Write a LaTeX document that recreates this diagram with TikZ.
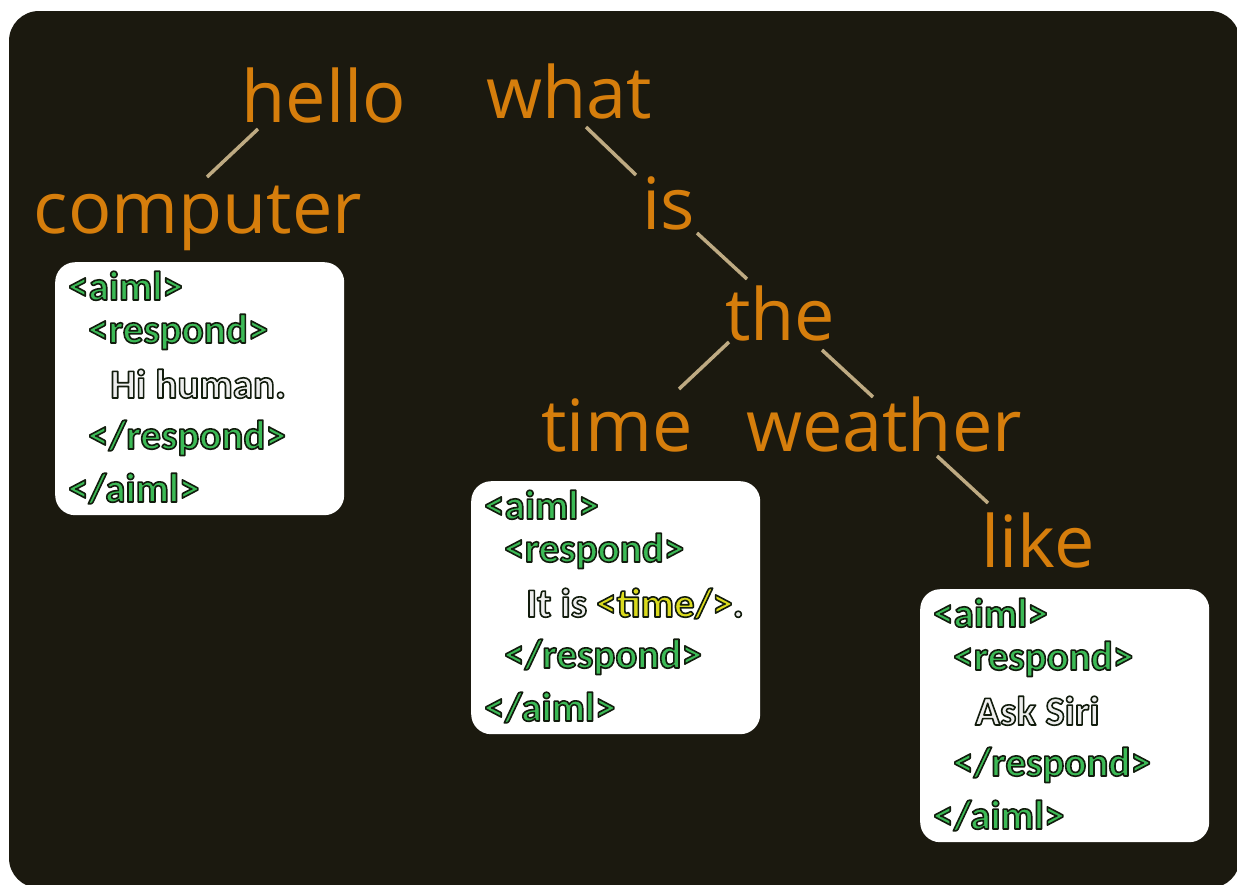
\documentclass[tikz,border=0pt]{standalone}
\usepackage{fontspec}
\setmainfont{Open Sans}
\newfontfamily\boxfont{Carlito}
\usetikzlibrary{calc}
\definecolor{bgc}{RGB}{27,25,15}
\definecolor{wordc}{RGB}{214,126,12}
\definecolor{edgec}{RGB}{190,170,130}
\definecolor{tagg}{RGB}{60,186,86}
\definecolor{txtw}{RGB}{238,238,238}
\definecolor{tyel}{RGB}{218,218,30}
\newcommand\otext[2]{{\color{#1}\special{pdf:literal direct 2 Tr 1.6 w 1 j 0.07 0.11 0.05 RG}#2\special{pdf:literal direct 0 Tr}}}
\tikzset{
  wordnode/.style={text=wordc, font=\fontsize{72}{80}\selectfont, inner sep=0pt, anchor=base},
  edgeline/.style={draw=edgec, line width=3.5pt},
  boxnode/.style={fill=white, rounded corners=20pt, draw=none, minimum width=289pt, minimum height=253pt, anchor=north west, inner sep=0pt},
  tagline/.style={anchor=base west, inner sep=0pt, font=\boxfont\bfseries\fontsize{41}{45}\selectfont}
}
\begin{document}
\begin{tikzpicture}[x=1pt,y=-1pt]
\useasboundingbox (0,0) rectangle (1237,884);
\fill[white] (0,0) rectangle (1237,884);
\fill[bgc, rounded corners=30pt] (9,11) rectangle (1240,888);

% words
\node[wordnode] (hello) at (324,122) {hello};
\node[wordnode] (what) at (569,118) {what};
\node[wordnode] (computer) at (198,233) {computer};
\node[wordnode] (is) at (669,229) {is};
\node[wordnode] (the) at (780,340) {the};
\node[wordnode] (time) at (617,451) {time};
\node[wordnode] (weather) at (884,451) {weather};
\node[wordnode] (like) at (1038,567) {like};

% connectors
\draw[edgeline] ($(hello.base)+(-66,7)$) -- ($(computer.base)+(9,-56)$);
\draw[edgeline] ($(what.base)+(17,9)$) -- ($(is.base)+(-33,-54)$);
\draw[edgeline] ($(is.base)+(28,4)$) -- ($(the.base)+(-33,-61)$);
\draw[edgeline] ($(the.base)+(-51,2)$) -- ($(time.base)+(62,-62)$);
\draw[edgeline] ($(the.base)+(42,10)$) -- ($(weather.base)+(-11,-54)$);
\draw[edgeline] ($(weather.base)+(53,5)$) -- ($(like.base)+(-50,-64)$);

% boxes
\node[boxnode] (b1) at (55,262) {};
\node[boxnode] (b2) at (471,481) {};
\node[boxnode] (b3) at (920,589) {};

\node[tagline] (b1a) at ($(b1.north west)+(13,38)$) {\otext{tagg}{<aiml>}};
\node[tagline] (b1b) at ($(b1.north west)+(33,81)$) {\otext{tagg}{<respond>}};
\node[tagline] (b1c) at ($(b1.north west)+(55,136)$) {\otext{txtw}{Hi human.}};
\node[tagline] (b1d) at ($(b1.north west)+(33,187)$) {\otext{tagg}{</respond>}};
\node[tagline] (b1e) at ($(b1.north west)+(13,240)$) {\otext{tagg}{</aiml>}};

\node[tagline] (b2a) at ($(b2.north west)+(13,38)$) {\otext{tagg}{<aiml>}};
\node[tagline] (b2b) at ($(b2.north west)+(33,81)$) {\otext{tagg}{<respond>}};
\node[tagline] (b2c) at ($(b2.north west)+(55,136)$) {\otext{txtw}{It is}\ \otext{tyel}{<time/>}\otext{txtw}{.}};
\node[tagline] (b2d) at ($(b2.north west)+(33,187)$) {\otext{tagg}{</respond>}};
\node[tagline] (b2e) at ($(b2.north west)+(13,240)$) {\otext{tagg}{</aiml>}};

\node[tagline] (b3a) at ($(b3.north west)+(13,38)$) {\otext{tagg}{<aiml>}};
\node[tagline] (b3b) at ($(b3.north west)+(33,81)$) {\otext{tagg}{<respond>}};
\node[tagline] (b3c) at ($(b3.north west)+(55,136)$) {\otext{txtw}{Ask Siri}};
\node[tagline] (b3d) at ($(b3.north west)+(33,187)$) {\otext{tagg}{</respond>}};
\node[tagline] (b3e) at ($(b3.north west)+(13,240)$) {\otext{tagg}{</aiml>}};
\end{tikzpicture}
\end{document}
